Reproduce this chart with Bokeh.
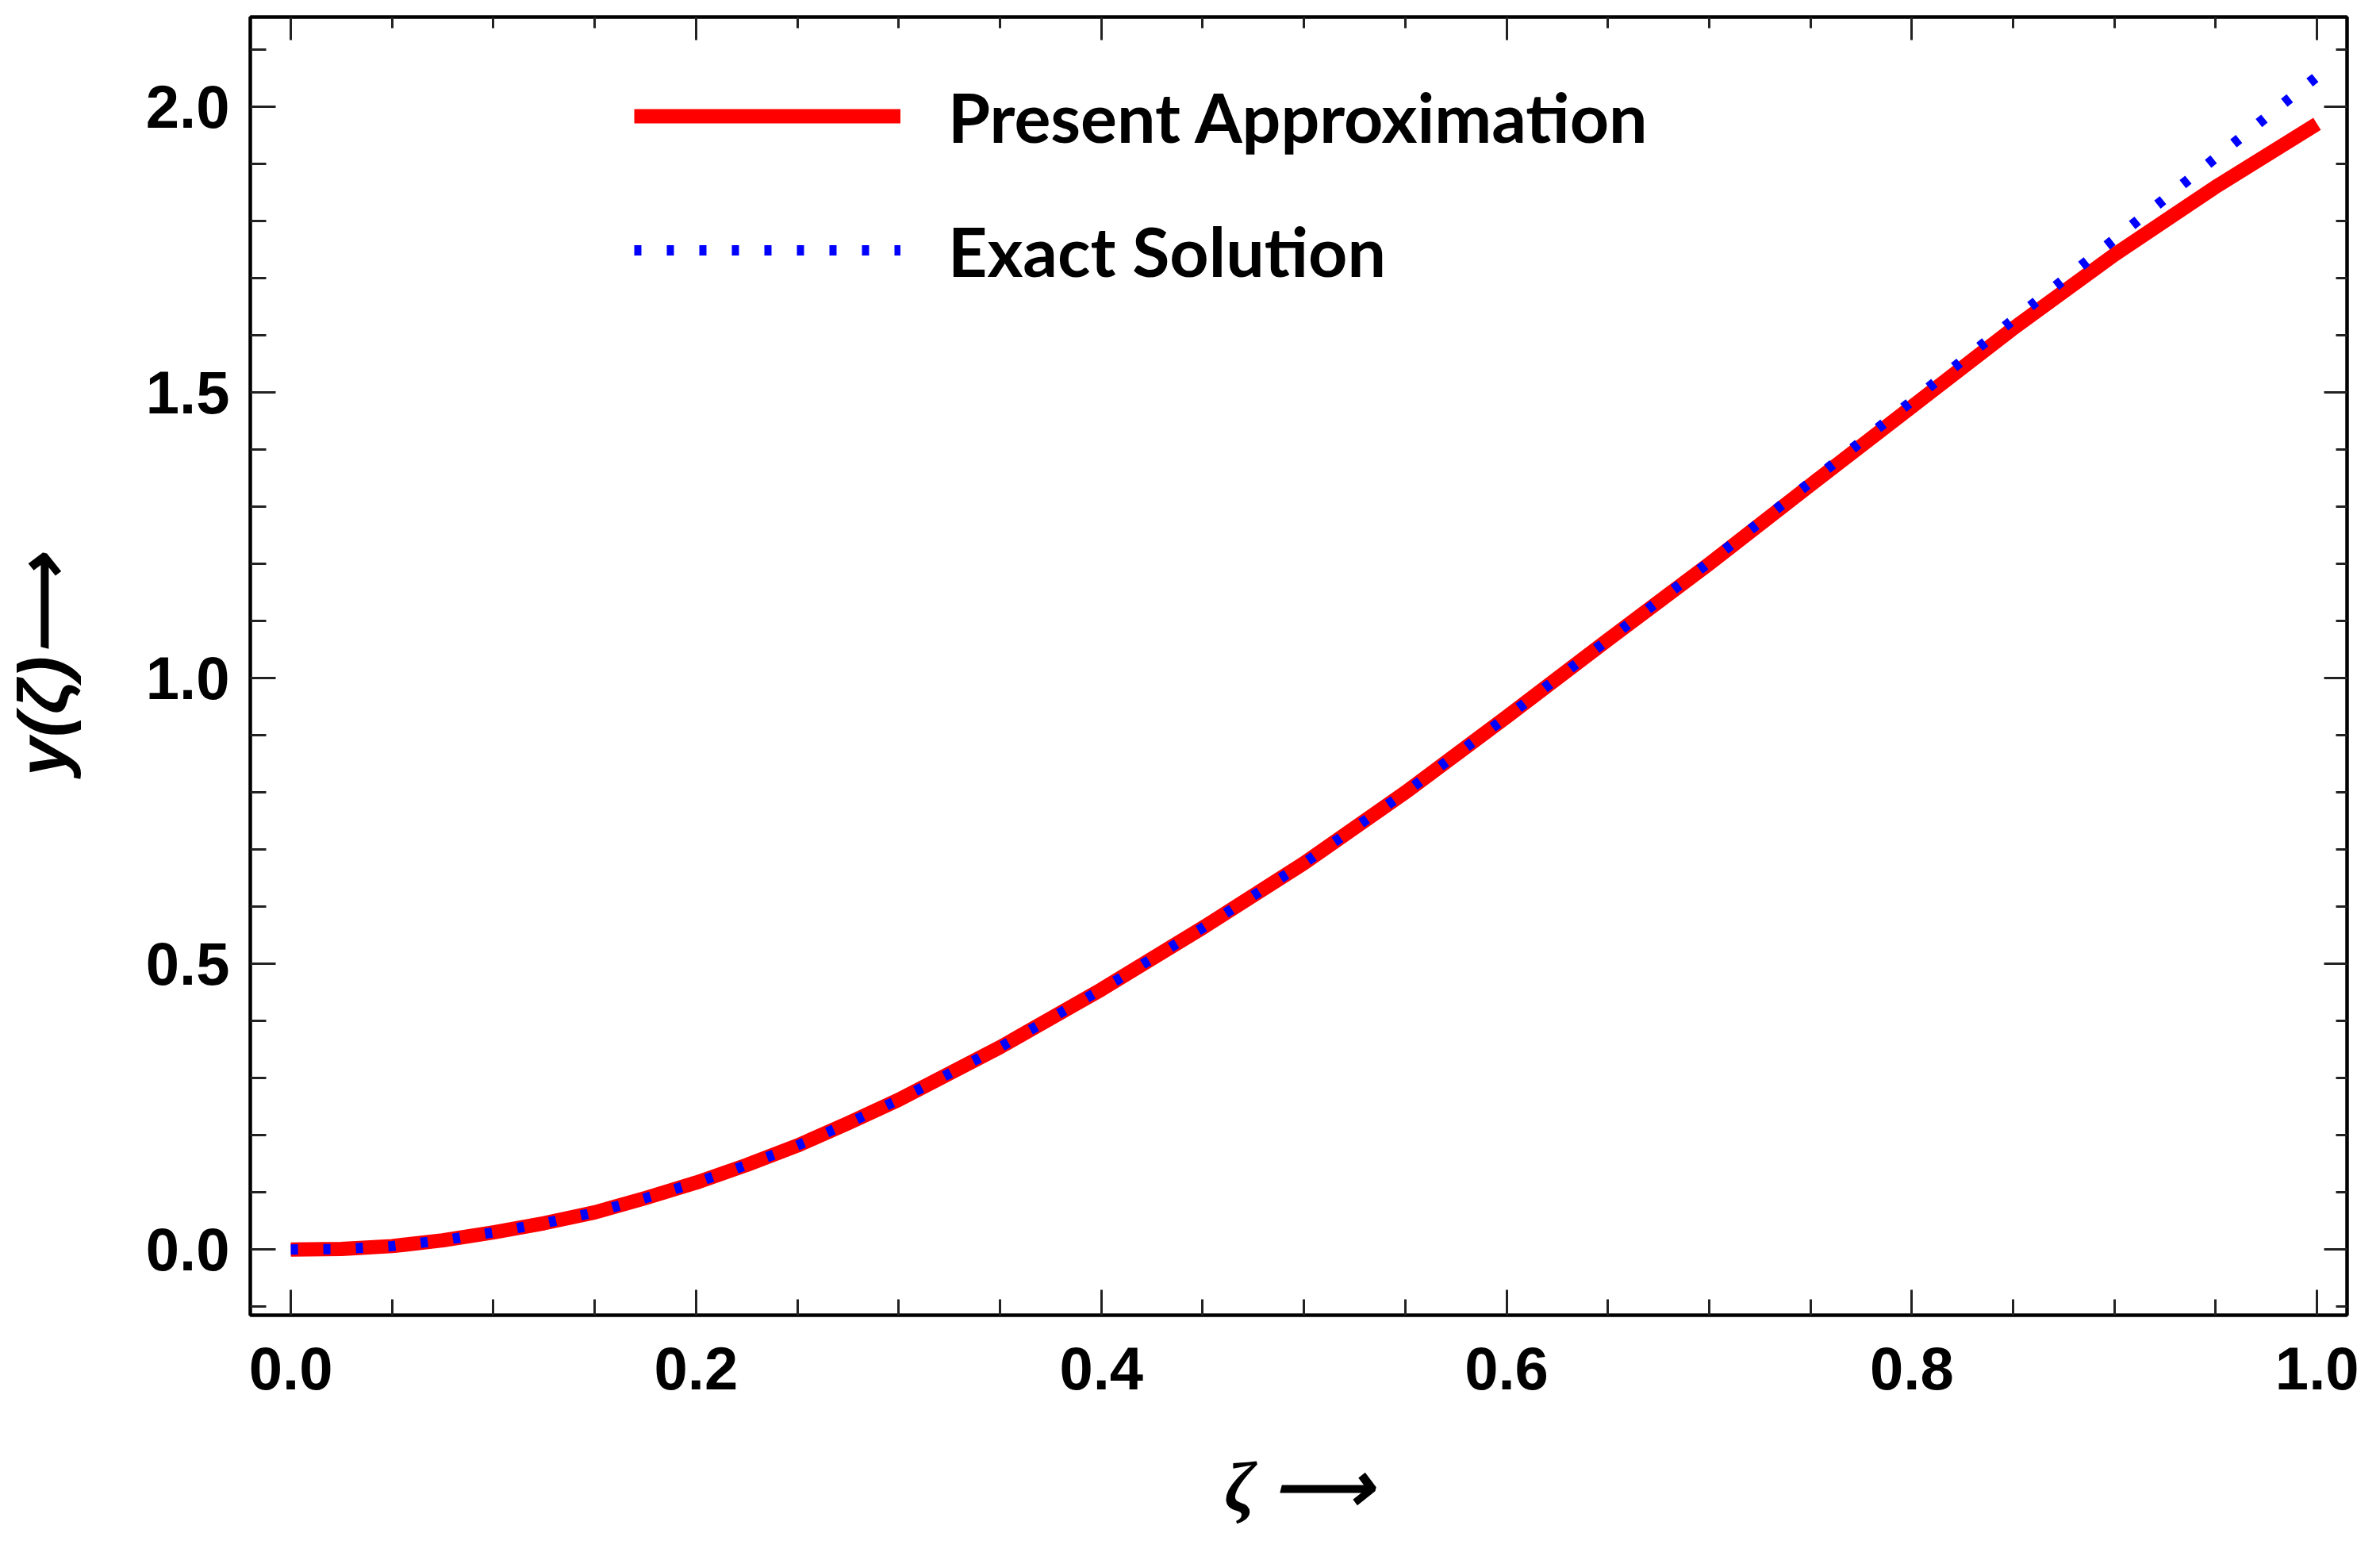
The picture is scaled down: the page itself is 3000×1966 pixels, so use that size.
import numpy as np
from bokeh.plotting import figure
from bokeh.models import Range1d, LinearAxis, FixedTicker, Legend, LegendItem
from bokeh.embed import file_html
from bokeh.resources import INLINE

# ---- data ----
zeta = [0.0, 0.025, 0.05, 0.075, 0.1, 0.125, 0.15, 0.175, 0.2, 0.225, 0.25, 0.275,
        0.3, 0.35, 0.4, 0.45, 0.5, 0.55, 0.6, 0.65, 0.7, 0.75, 0.8, 0.85, 0.9,
        0.95, 1.0]
approx = [0.0, 0.001, 0.006, 0.016, 0.030, 0.046, 0.065, 0.090, 0.117, 0.148, 0.182,
          0.221, 0.262, 0.354, 0.455, 0.563, 0.676, 0.800, 0.932, 1.067, 1.200,
          1.338, 1.475, 1.612, 1.741, 1.860, 1.970]
exact = [0.0, 0.001, 0.006, 0.016, 0.030, 0.046, 0.065, 0.090, 0.117, 0.148, 0.182,
         0.221, 0.262, 0.354, 0.455, 0.563, 0.676, 0.800, 0.932, 1.067, 1.203,
         1.343, 1.485, 1.627, 1.768, 1.911, 2.053]

x_ticks = [0.0, 0.2, 0.4, 0.6, 0.8, 1.0]
x_tick_labels = ["0.0", "0.2", "0.4", "0.6", "0.8", "1.0"]
x_minor = [0.05, 0.1, 0.15, 0.25, 0.3, 0.35, 0.45, 0.5, 0.55, 0.65, 0.7, 0.75,
           0.85, 0.9, 0.95]
y_ticks = [0.0, 0.5, 1.0, 1.5, 2.0]
y_tick_labels = ["0.0", "0.5", "1.0", "1.5", "2.0"]
y_minor = [-0.1, 0.1, 0.2, 0.3, 0.4, 0.6, 0.7, 0.8, 0.9, 1.1, 1.2, 1.3, 1.4,
           1.6, 1.7, 1.8, 1.9, 2.1]

series_names = ["Present Approximation", "Exact Solution"]

p = figure(width=2984, height=1950, output_backend="svg", toolbar_location=None,
           x_range=Range1d(-0.0200, 1.0148), y_range=Range1d(-0.115, 2.157),
           min_border_left=314, min_border_right=26, min_border_top=21,
           min_border_bottom=293, x_axis_label="ζ ⟶", y_axis_label="y(ζ)⟶")
p.grid.visible = False
p.outline_line_color = "black"
p.outline_line_width = 4
p.background_fill_color = "white"
p.border_fill_color = "white"

xt = FixedTicker(ticks=x_ticks, minor_ticks=x_minor)
yt = FixedTicker(ticks=y_ticks, minor_ticks=y_minor)
p.xaxis.ticker = xt
p.yaxis.ticker = yt
p.xaxis.major_label_overrides = dict(zip(x_ticks, x_tick_labels))
p.yaxis.major_label_overrides = dict(zip(y_ticks, y_tick_labels))

for ax in (p.xaxis[0], p.yaxis[0]):
    ax.axis_line_width = 4
    ax.axis_line_color = "black"
    ax.major_tick_in = 32
    ax.major_tick_out = 0
    ax.minor_tick_in = 20
    ax.minor_tick_out = 0
    ax.major_tick_line_width = 3
    ax.minor_tick_line_width = 3
    ax.major_tick_line_color = "#222222"
    ax.minor_tick_line_color = "#222222"
    ax.major_label_text_font = "Liberation Sans"
    ax.major_label_text_font_style = "bold"
    ax.major_label_text_font_size = "76px"
    ax.major_label_text_color = "black"
    ax.axis_label_text_font_style = "bold italic"
    ax.axis_label_text_color = "black"

p.xaxis.major_label_standoff = 40
p.yaxis.major_label_standoff = 26
p.xaxis.axis_label_text_font = "Liberation Serif"
p.xaxis.axis_label_text_font_size = "88px"
p.xaxis.axis_label_standoff = 72
p.yaxis.axis_label_text_font = "Liberation Sans"
p.yaxis.axis_label_text_font_size = "88px"
p.yaxis.axis_label_standoff = 78

for place, ticker in (("above", xt), ("right", yt)):
    ax = LinearAxis(ticker=ticker)
    ax.axis_line_width = 4
    ax.axis_line_color = "black"
    ax.major_tick_in = 29
    ax.major_tick_out = 0
    ax.minor_tick_in = 14
    ax.minor_tick_out = 0
    ax.major_tick_line_width = 3
    ax.minor_tick_line_width = 3
    ax.major_tick_line_color = "#222222"
    ax.minor_tick_line_color = "#222222"
    ax.major_label_text_font_size = "1px"
    ax.major_label_text_color = None
    ax.major_label_standoff = 0
    p.add_layout(ax, place)

r1 = p.line(zeta, approx, line_color="red", line_width=18, line_join="round")
r2 = p.line(zeta, exact, line_color="blue", line_width=13, line_dash="9 32")

legend = Legend(items=[LegendItem(label=series_names[0], renderers=[r1]),
                       LegendItem(label=series_names[1], renderers=[r2])],
                location=(484, 1290), glyph_width=336, glyph_height=104,
                label_standoff=60, spacing=65, padding=0, margin=0,
                label_text_font="Lato", label_text_font_style="bold",
                label_text_font_size="86px", label_text_color="black",
                border_line_alpha=0, background_fill_alpha=0)
p.add_layout(legend)

open("out.html", "w").write(file_html(p, INLINE))
